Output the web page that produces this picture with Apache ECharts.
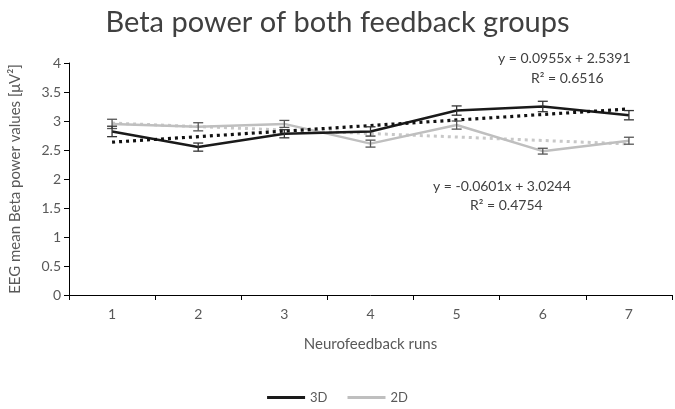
<!DOCTYPE html>
<html>
<head>
<meta charset="utf-8">
<script src="https://cdn.jsdelivr.net/npm/echarts@6/dist/echarts.min.js"></script>
<style>html,body{margin:0;padding:0;background:#fff}#c{width:675px;height:409px}</style>
</head>
<body>
<div id="c"></div>
<script>
const runs = ['1','2','3','4','5','6','7'];
const values3D = [2.82, 2.55, 2.78, 2.82, 3.18, 3.25, 3.10];
const err3D    = [0.09, 0.07, 0.07, 0.08, 0.08, 0.09, 0.08];
const values2D = [2.95, 2.90, 2.95, 2.61, 2.93, 2.48, 2.66];
const err2D    = [0.08, 0.07, 0.06, 0.06, 0.07, 0.05, 0.06];
const trend3D  = [2.635, 3.208];   // dotted trendline at run 1 and run 7
const trend2D  = [2.964, 2.604];
const yTicks = [0, 0.5, 1, 1.5, 2, 2.5, 3, 3.5, 4];
const eq3D = ['y = 0.0955x + 2.5391', 'R² = 0.6516'];
const eq2D = ['y = -0.0601x + 3.0244', 'R² = 0.4754'];

const FONT = 'Lato, "Open Sans", sans-serif';
const chart = echarts.init(document.getElementById('c'));

function errSeries(vals, errs, color) {
  return {
    type: 'custom',
    silent: true,
    z: 5,
    data: vals.map((v, i) => [i, v - errs[i], v + errs[i]]),
    renderItem: function (params, api) {
      const x = api.value(0);
      const lo = api.coord([x, api.value(1)]);
      const hi = api.coord([x, api.value(2)]);
      const w = 5;
      const st = { stroke: color, lineWidth: 1.3 };
      return {
        type: 'group',
        children: [
          { type: 'line', shape: { x1: lo[0], y1: lo[1], x2: hi[0], y2: hi[1] }, style: st },
          { type: 'line', shape: { x1: lo[0] - w, y1: lo[1], x2: lo[0] + w, y2: lo[1] }, style: st },
          { type: 'line', shape: { x1: hi[0] - w, y1: hi[1], x2: hi[0] + w, y2: hi[1] }, style: st }
        ]
      };
    }
  };
}

chart.setOption({
  animation: false,
  title: {
    text: 'Beta power of both feedback groups',
    left: 'center', top: 3,
    textStyle: { fontFamily: FONT, fontSize: 29, fontWeight: 'normal', color: '#404040' }
  },
  legend: {
    bottom: 0, left: 'center',
    itemWidth: 38, itemHeight: 3, itemGap: 20,
    textStyle: { fontFamily: FONT, fontSize: 13, color: '#595959' },
    data: [
      { name: '3D', icon: 'rect' },
      { name: '2D', icon: 'rect' }
    ]
  },
  grid: { left: 68, right: 3, top: 63, bottom: 114 },
  xAxis: {
    type: 'category',
    data: runs,
    boundaryGap: true,
    name: 'Neurofeedback runs',
    nameLocation: 'middle',
    nameGap: 42,
    nameTextStyle: { fontFamily: FONT, fontSize: 15, color: '#595959' },
    axisLine: { lineStyle: { color: '#000', width: 1 } },
    axisTick: { show: true, length: 5, alignWithLabel: false, lineStyle: { color: '#000' } },
    axisLabel: { fontFamily: FONT, fontSize: 14, color: '#595959', margin: 12 }
  },
  yAxis: {
    type: 'value',
    min: 0, max: 4, interval: 0.5,
    name: 'EEG mean Beta power values [μV²]',
    nameLocation: 'middle',
    nameGap: 46,
    nameTextStyle: { fontFamily: FONT, fontSize: 15, color: '#595959' },
    axisLine: { show: true, lineStyle: { color: '#000', width: 1 } },
    axisTick: { show: true, length: 5, lineStyle: { color: '#000' } },
    splitLine: { show: false },
    axisLabel: {
      fontFamily: FONT, fontSize: 14, color: '#595959', margin: 8,
      formatter: v => yTicks.includes(v) ? String(v) : ''
    }
  },
  series: [
    {
      name: '2D-trend', type: 'line', silent: true, symbol: 'none', z: 2,
      data: [[0, trend2D[0]], [6, trend2D[1]]],
      lineStyle: { color: '#c8c8c8', width: 3, type: [3, 4] }
    },
    {
      name: '2D', type: 'line', symbol: 'none', z: 3,
      data: values2D,
      color: '#bfbfbf',
      lineStyle: { color: '#bfbfbf', width: 2.5 }
    },
    {
      name: '3D', type: 'line', symbol: 'none', z: 4,
      data: values3D,
      color: '#1a1a1a',
      lineStyle: { color: '#1a1a1a', width: 2.5 }
    },
    {
      name: '3D-trend', type: 'line', silent: true, symbol: 'none', z: 4,
      data: [[0, trend3D[0]], [6, trend3D[1]]],
      lineStyle: { color: '#111', width: 3.2, type: [3, 4] }
    },
    errSeries(values2D, err2D, '#555'),
    errSeries(values3D, err3D, '#333')
  ],
  graphic: [
    { type: 'text', left: 498, top: 51, style: { text: eq3D[0], font: '14px ' + FONT, fill: '#404040' } },
    { type: 'text', left: 531, top: 71, style: { text: eq3D[1], font: '14px ' + FONT, fill: '#404040' } },
    { type: 'text', left: 433, top: 179, style: { text: eq2D[0], font: '14px ' + FONT, fill: '#404040' } },
    { type: 'text', left: 470, top: 198, style: { text: eq2D[1], font: '14px ' + FONT, fill: '#404040' } }
  ]
});
</script>
</body>
</html>
